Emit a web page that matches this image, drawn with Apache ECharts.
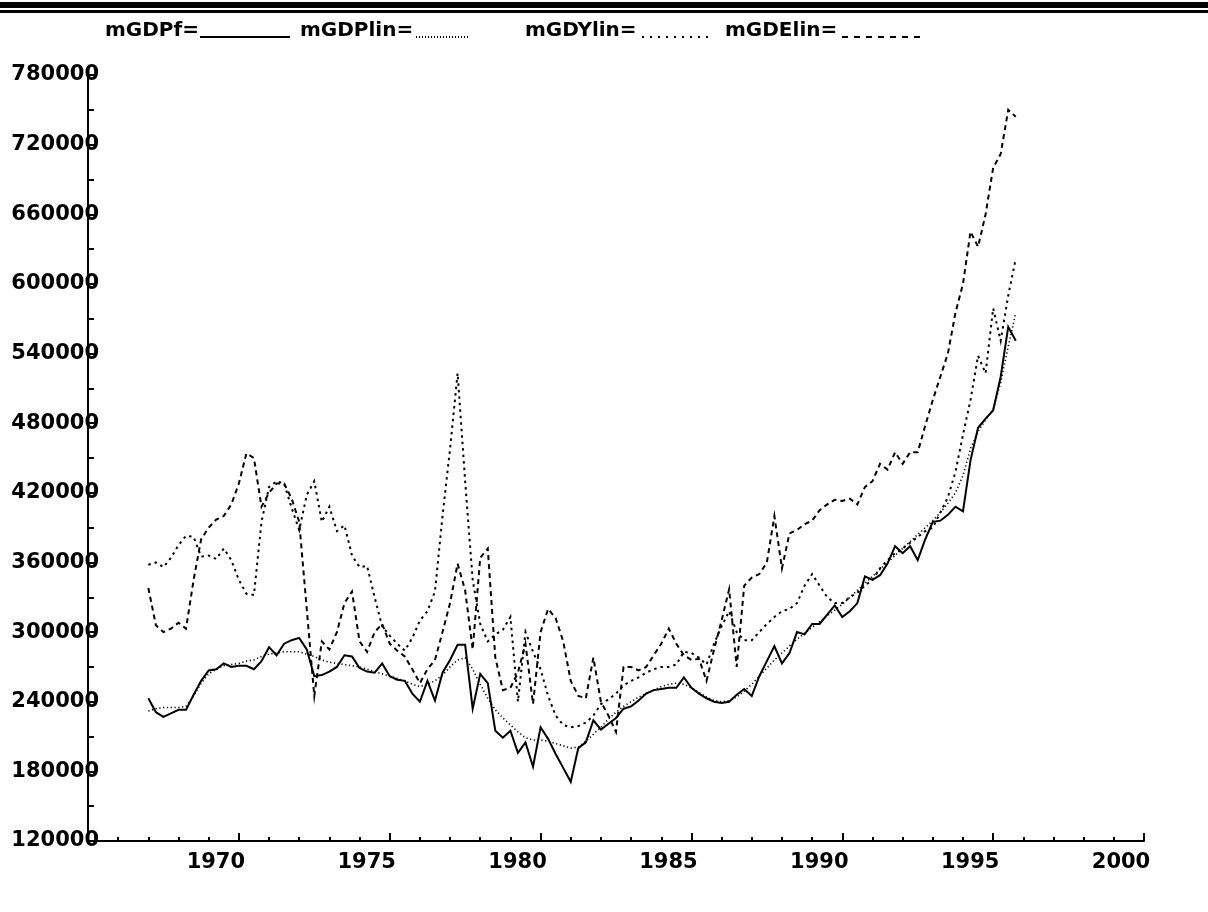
<!DOCTYPE html>
<html><head><meta charset="utf-8">
<script src="https://cdn.jsdelivr.net/npm/echarts@6/dist/echarts.min.js"></script>
<style>html,body{margin:0;padding:0;background:#fff}#c{width:1208px;height:912px}</style>
</head><body><div id="c"></div>
<script>
// quarterly observations, first one at 1967.00, step 0.25 year
const startYear = 1967;
const quarterStep = 0.25;

const mGDPf = [
 243000,231000,227000,230000, 233000,233000,246000,258000, 267000,268000,273000,270000,
 271000,271000,268000,275000, 287000,280000,290000,293000, 295000,285000,262000,263000,
 266000,270000,280000,279000, 269000,266000,265000,273000, 262000,259000,258000,247000,
 240000,258000,241000,265000, 276000,289000,289000,234000, 264000,256000,215000,209000,
 215000,196000,205000,184000, 218000,208000,195000,183000, 171000,200000,205000,224000,
 216000,221000,226000,234000, 236000,241000,247000,250000, 251000,252000,252000,261000,
 252000,247000,243000,240000, 239000,240000,246000,251000, 245000,262000,275000,288000,
 273000,282000,300000,298000, 307000,307000,315000,323000, 313000,318000,325000,348000,
 345000,349000,359000,374000, 368000,374000,362000,380000, 395000,396000,401000,408000,
 404000,448000,476000,484000, 491000,520000,563000,551000
];
const mGDPlin = [
 232000,234000,235000,235000, 235000,236000,245000,256000, 264000,268000,271000,272000,
 273000,275000,276000,279000, 281000,282000,283000,283000, 283000,281000,279000,276000,
 274000,273000,272000,271000, 270000,268000,266000,264000, 262000,260000,258000,255000,
 253000,255000,258000,263000, 270000,276000,278000,268000, 255000,243000,233000,226000,
 220000,214000,209000,207000, 207000,206000,204000,202000, 200000,201000,206000,212000,
 218000,225000,231000,236000, 240000,244000,247000,250000, 253000,255000,256000,255000,
 252000,248000,244000,241000, 240000,241000,244000,249000, 255000,262000,269000,276000,
 282000,288000,294000,299000, 304000,309000,314000,319000, 324000,330000,336000,342000,
 348000,354000,360000,366000, 372000,378000,384000,390000, 396000,403000,411000,420000,
 435000,458000,473000,483000, 492000,515000,546000,575000
];
const mGDYlin = [
 358000,360000,356000,364000, 375000,383000,382000,365000, 366000,363000,372000,362000,
 345000,333000,332000,395000, 425000,430000,428000,407000, 388000,418000,430000,395000,
 408000,387000,392000,366000, 356000,357000,330000,305000, 297000,290000,284000,295000,
 310000,318000,335000,400000, 458000,523000,430000,345000, 307000,292000,298000,302000,
 313000,240000,300000,283000, 268000,245000,228000,220000, 218000,219000,222000,228000,
 238000,242000,247000,254000, 258000,261000,265000,268000, 270000,270000,272000,283000,
 282000,278000,272000,290000, 305000,318000,300000,293000, 293000,300000,307000,313000,
 318000,320000,325000,340000, 350000,340000,330000,325000, 325000,330000,334000,340000,
 345000,355000,362000,368000, 372000,377000,382000,387000, 390000,403000,416000,438000,
 470000,500000,538000,523000, 579000,551000,590000,622000
];
const mGDElin = [
 338000,306000,300000,303000, 308000,303000,345000,380000, 390000,397000,400000,410000,
 428000,454000,450000,408000, 420000,428000,428000,415000, 395000,320000,245000,292000,
 285000,300000,325000,335000, 292000,283000,300000,307000, 290000,284000,279000,268000,
 256000,268000,276000,300000, 325000,359000,336000,285000, 364000,372000,278000,250000,
 252000,265000,290000,238000, 300000,320000,312000,292000, 258000,245000,243000,278000,
 240000,228000,214000,270000, 270000,267000,270000,280000, 290000,303000,290000,280000,
 276000,277000,258000,285000, 310000,337000,270000,340000, 347000,350000,360000,400000,
 355000,385000,388000,393000, 396000,405000,410000,414000, 413000,415000,410000,425000,
 430000,445000,440000,455000, 445000,455000,455000,478000, 500000,520000,540000,575000,
 600000,645000,632000,660000, 700000,712000,750000,744000
];

const xTickYears = [1970, 1975, 1980, 1985, 1990, 1995, 2000];
const yTickValues = [120000,180000,240000,300000,360000,420000,480000,540000,600000,660000,720000,780000];
const legendNames = ['mGDPf', 'mGDPlin', 'mGDYlin', 'mGDElin'];

function pairs(arr) { return arr.map((v, i) => [startYear + i * quarterStep, v]); }

const FONT = 'DejaVu Sans';
const dashes = {
  mGDPf: { type: 'solid', width: 2, legend: null },
  mGDPlin: { type: [1.2, 2.6], width: 1.6, legend: [1, 2] },
  mGDYlin: { type: [2.5, 4], width: 2, legend: [2, 6] },
  mGDElin: { type: [5, 4], width: 2, legend: [6, 6] }
};
const seriesData = { mGDPf, mGDPlin, mGDYlin, mGDElin };

const chart = echarts.init(document.getElementById('c'), null, { renderer: 'canvas' });

// header: double rule and legend drawn as text + sample strokes
const legendLayout = [
  { name: 'mGDPf', x: 105, x1: 200, x2: 290 },
  { name: 'mGDPlin', x: 300, x1: 416, x2: 470 },
  { name: 'mGDYlin', x: 525, x1: 642, x2: 710 },
  { name: 'mGDElin', x: 725, x1: 842, x2: 920 }
];
const graphics = [
  { type: 'rect', left: 0, top: 2, shape: { width: 1208, height: 6 }, style: { fill: '#000' }, silent: true },
  { type: 'rect', left: 0, top: 10, shape: { width: 1208, height: 3 }, style: { fill: '#000' }, silent: true }
];
legendLayout.forEach(it => {
  graphics.push({
    type: 'text', x: it.x, y: 31, silent: true,
    style: { text: it.name + '=', fill: '#000', font: 'bold 20px "' + FONT + '"', textVerticalAlign: 'middle', textAlign: 'left' }
  });
  const d = dashes[it.name];
  graphics.push({
    type: 'line', silent: true, shape: { x1: it.x1, y1: 37, x2: it.x2, y2: 37 },
    style: { stroke: '#000', lineWidth: 2, lineDash: d.legend }
  });
});

chart.setOption({
  animation: false,
  backgroundColor: '#fff',
  grid: { left: 88, right: 64, top: 75, bottom: 71, containLabel: false, outerBoundsMode: 'none' },
  graphic: graphics,
  xAxis: {
    type: 'value', min: 1965, max: 2000, interval: 5,
    axisLine: { show: true, onZero: false, lineStyle: { color: '#000', width: 2 } },
    axisTick: { show: true, inside: true, length: 8, lineStyle: { color: '#000', width: 2 } },
    minorTick: { show: true, splitNumber: 5, length: 4, lineStyle: { color: '#000', width: 2 } },
    splitLine: { show: false },
    axisLabel: {
      color: '#000', fontFamily: FONT, fontWeight: 'bold', fontSize: 21,
      margin: 11, align: 'center', padding: [0, 46, 0, 0],
      formatter: v => (xTickYears.indexOf(v) >= 0 ? String(v) : '')
    }
  },
  yAxis: {
    type: 'value', min: 120000, max: 780000, interval: 60000,
    axisLine: { show: true, onZero: false, lineStyle: { color: '#000', width: 2 } },
    axisTick: { show: true, inside: true, length: 6, lineStyle: { color: '#000', width: 2 } },
    minorTick: { show: true, splitNumber: 2, length: 6, lineStyle: { color: '#000', width: 2 } },
    splitLine: { show: false },
    axisLabel: {
      color: '#000', fontFamily: FONT, fontWeight: 'bold', fontSize: 21,
      margin: -11, align: 'right',
      formatter: v => (yTickValues.indexOf(v) >= 0 ? String(v) : '')
    }
  },
  series: legendNames.map(n => ({
    name: n, type: 'line', data: pairs(seriesData[n]), symbol: 'none', silent: true,
    lineStyle: { color: '#000', width: dashes[n].width, type: dashes[n].type, cap: 'butt', join: 'miter' }
  }))
});
</script></body></html>
